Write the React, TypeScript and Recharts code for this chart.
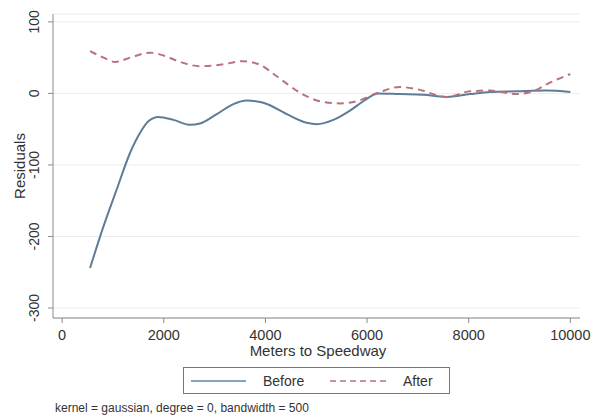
import { CartesianGrid, Line, LineChart, XAxis, YAxis } from "recharts";

const beforeX = [550, 813, 1075, 1337, 1534, 1698, 1894, 2189, 2517, 2714, 3042, 3370, 3632, 3960, 4419, 4812, 5009, 5337, 5664, 5925, 6220, 6647, 7106, 7565, 8024, 8417, 8941, 9531, 10000];
const beforeY = [-244, -186, -134, -83, -55, -39, -33, -37, -44, -42, -29, -15, -10, -13, -29, -41, -43, -37, -24, -11, 0, -1, -2, -5, -1, 2, 3, 4, 2];

const afterX = [550, 813, 1042, 1337, 1731, 1993, 2320, 2714, 3107, 3566, 3894, 4222, 4681, 5074, 5467, 5795, 6220, 6647, 6975, 7565, 8024, 8417, 8941, 9269, 9597, 10000];
const afterY = [59, 50, 44, 50, 57, 53, 44, 38, 40, 45, 40, 24, 1, -11, -14, -11, 1, 9, 6, -5, 3, 4, -1, 3, 15, 27];

const xTicks = [0, 2000, 4000, 6000, 8000, 10000];
const yTicks = [-300, -200, -100, 0, 100];

const beforeData = beforeX.map((x, i) => ({ x, y: beforeY[i] }));
const afterData = afterX.map((x, i) => ({ x, y: afterY[i] }));

const font = "'Liberation Sans', Arial, sans-serif";
const axisColor = "#8a8a8a";
const textColor = "#333";
const beforeColor = "#5f7c97";
const afterColor = "#b9717f";

function YTick(props: any) {
  const { x, y, payload } = props;
  const cx = 34;
  return (
    <text
      x={cx}
      y={y}
      transform={`rotate(-90 ${cx} ${y})`}
      textAnchor="middle"
      dominantBaseline="central"
      fontSize={14}
      fill={textColor}
      fontFamily={font}
    >
      {payload.value}
    </text>
  );
}

function XTick(props: any) {
  const { x, payload } = props;
  return (
    <text x={x} y={340} textAnchor="middle" fontSize={14.5} fill={textColor} fontFamily={font}>
      {payload.value}
    </text>
  );
}

function LegendBox() {
  return (
    <div
      style={{
        position: "absolute",
        left: 183,
        top: 367,
        width: 265,
        height: 25,
        border: "1px solid #777",
        background: "#fff",
      }}
    >
      <svg width={265} height={25} style={{ position: "absolute", left: 0, top: 0 }}>
        <line x1={7} x2={62} y1={13} y2={13} stroke="#86a3bb" strokeWidth={2} />
        <text x={79} y={18} fontSize={14} fill={textColor} fontFamily={font}>Before</text>
        <line x1={146} x2={206} y1={13} y2={13} stroke={afterColor} strokeWidth={1.5} strokeDasharray="6 4" />
        <text x={219} y={18} fontSize={14} fill={textColor} fontFamily={font}>After</text>
      </svg>
    </div>
  );
}

export default function App() {
  return (
    <div style={{ position: "relative", width: 605, height: 418, background: "#fff" }}>
      <style>{`body{margin:0}`}</style>
      <LineChart
        width={605}
        height={418}
        margin={{ top: 14, right: 25, bottom: 70, left: 0 }}
      >
        <CartesianGrid horizontal vertical={false} stroke="#e6efef" />
        <XAxis
          type="number"
          dataKey="x"
          domain={[-180, 10190]}
          ticks={xTicks}
          allowDataOverflow
          height={30}
          stroke={axisColor}
          tickSize={5}
          tick={<XTick />}
        />
        <YAxis
          type="number"
          dataKey="y"
          domain={[-314, 111]}
          ticks={yTicks}
          allowDataOverflow
          width={53}
          stroke={axisColor}
          tickSize={5}
          tick={<YTick />}
        />
        <text
          x={318}
          y={356}
          textAnchor="middle"
          fontSize={15}
          fill={textColor}
          fontFamily={font}
        >
          Meters to Speedway
        </text>
        <text
          x={19}
          y={166}
          transform="rotate(-90 19 166)"
          textAnchor="middle"
          dominantBaseline="central"
          fontSize={15}
          fill={textColor}
          fontFamily={font}
        >
          Residuals
        </text>
        <Line
          data={beforeData}
          dataKey="y"
          type="monotone"
          stroke={beforeColor}
          strokeWidth={2}
          dot={false}
          isAnimationActive={false}
        />
        <Line
          data={afterData}
          dataKey="y"
          type="monotone"
          stroke={afterColor}
          strokeWidth={2}
          strokeDasharray="7 5"
          dot={false}
          isAnimationActive={false}
        />
      </LineChart>
      <LegendBox />
      <div
        style={{
          position: "absolute",
          left: 55,
          top: 401,
          fontFamily: font,
          fontSize: 12,
          color: textColor,
          whiteSpace: "nowrap",
        }}
      >
        kernel = gaussian, degree = 0, bandwidth = 500
      </div>
    </div>
  );
}
